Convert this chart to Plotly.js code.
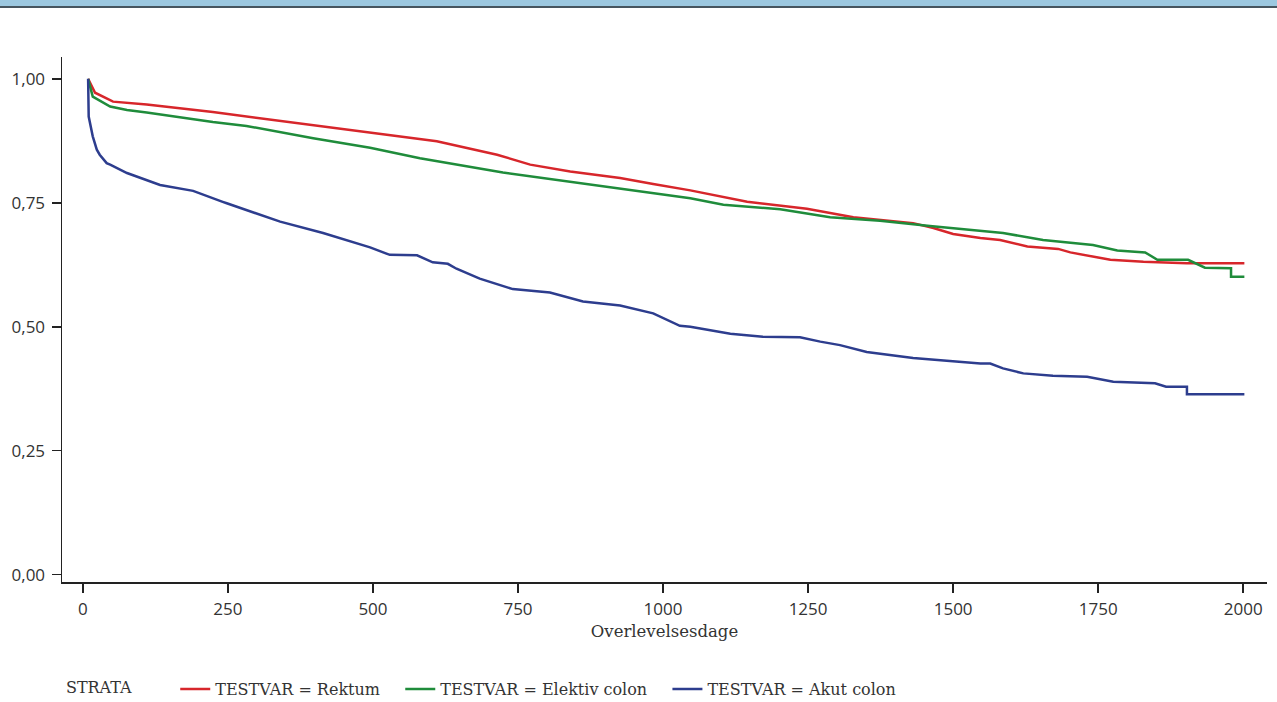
<!DOCTYPE html>
<html>
<head>
<meta charset="utf-8">
<script src="https://cdn.plot.ly/plotly-3.0.1.min.js"></script>
<style>
  html, body { margin: 0; padding: 0; background: #fff; }
  #topband { position: absolute; left: 0; top: 0; width: 1277px; height: 6px; background: #9cc8e0; border-bottom: 2px solid #46555f; z-index: 5; }
  #chart { position: absolute; left: 0; top: 0; width: 1277px; height: 702px; }
</style>
</head>
<body>
<div id="topband"></div>
<div id="chart"></div>
<script>
// Kaplan-Meier survival, days
const rektumDays = [9, 21, 52, 110, 224, 340, 495, 512, 610, 714, 771, 840, 926, 983, 1047, 1145, 1248, 1328, 1431, 1466, 1500, 1547, 1581, 1628, 1681, 1702, 1771, 1828, 1903, 2002];
const rektumSurv = [1.000, 0.972, 0.954, 0.948, 0.933, 0.915, 0.892, 0.889, 0.874, 0.847, 0.827, 0.813, 0.800, 0.788, 0.775, 0.752, 0.738, 0.721, 0.709, 0.699, 0.687, 0.679, 0.675, 0.662, 0.657, 0.650, 0.635, 0.631, 0.628, 0.628];

const elektivDays = [9, 17, 47, 76, 110, 224, 282, 397, 495, 581, 724, 840, 926, 1047, 1104, 1202, 1288, 1374, 1460, 1547, 1586, 1655, 1741, 1783, 1831, 1852, 1905, 1934, 1979, 1979, 2002];
const elektivSurv = [1.000, 0.964, 0.944, 0.937, 0.932, 0.913, 0.905, 0.880, 0.861, 0.840, 0.811, 0.792, 0.778, 0.759, 0.746, 0.737, 0.721, 0.714, 0.703, 0.694, 0.689, 0.675, 0.665, 0.654, 0.650, 0.635, 0.635, 0.619, 0.618, 0.601, 0.601];

const akutDays = [9, 10, 17, 24, 29, 41, 47, 76, 133, 190, 241, 248, 340, 414, 495, 529, 576, 603, 629, 644, 684, 741, 805, 862, 926, 983, 1029, 1047, 1116, 1172, 1236, 1271, 1305, 1351, 1431, 1489, 1547, 1564, 1586, 1621, 1672, 1731, 1776, 1848, 1867, 1903, 1903, 2002];
const akutSurv = [1.000, 0.924, 0.884, 0.857, 0.847, 0.830, 0.827, 0.810, 0.786, 0.774, 0.752, 0.749, 0.712, 0.689, 0.660, 0.645, 0.644, 0.630, 0.627, 0.617, 0.597, 0.576, 0.569, 0.551, 0.543, 0.527, 0.502, 0.500, 0.486, 0.480, 0.479, 0.470, 0.463, 0.449, 0.437, 0.431, 0.426, 0.426, 0.416, 0.406, 0.401, 0.399, 0.389, 0.386, 0.379, 0.379, 0.364, 0.364];

const seriesNames = ["TESTVAR = Rektum", "TESTVAR = Elektiv colon", "TESTVAR = Akut colon"];
const seriesColors = ["#d7262b", "#1f8c3b", "#2d3d8e"];

const xTicks = [0, 250, 500, 750, 1000, 1250, 1500, 1750, 2000];
const yTicks = [0, 0.25, 0.5, 0.75, 1.0];

const serifFont = "'DejaVu Serif', 'Liberation Serif', serif";
const sansFont = "'Open Sans', 'Noto Sans', sans-serif";
const NB = '\u00A0';

const xs = [rektumDays, elektivDays, akutDays];
const ys = [rektumSurv, elektivSurv, akutSurv];
const traces = xs.map((x, i) => ({
  x: x, y: ys[i], type: 'scatter', mode: 'lines',
  name: seriesNames[i] + (i < 2 ? NB.repeat(3) : ''),
  line: {color: seriesColors[i], width: 2.5, shape: 'linear'}
}));

const layout = {
  width: 1277, height: 702,
  margin: {l: 62, r: 10, t: 57, b: 120, autoexpand: false},
  paper_bgcolor: '#ffffff', plot_bgcolor: '#ffffff',
  separators: ', ',
  showlegend: true,
  legend: {
    orientation: 'h', x: 0.0016, xanchor: 'left', y: -0.204, yanchor: 'middle',
    title: {text: 'STRATA' + NB.repeat(7), side: 'left', font: {family: serifFont, size: 16, color: '#333'}},
    font: {family: serifFont, size: 16, color: '#333'},
    itemwidth: 30, tracegroupgap: 0, bgcolor: 'rgba(0,0,0,0)'
  },
  xaxis: {
    range: [-36, 2041], tickvals: xTicks, tickformat: 'd',
    showgrid: false, zeroline: false, showline: true, linecolor: '#222', linewidth: 1.5,
    ticks: 'outside', ticklen: 9, tickcolor: '#222', tickwidth: 1.5,
    ticklabelstandoff: 2,
    tickfont: {family: sansFont, size: 17, color: '#333'},
    title: {text: 'Overlevelsesdage', font: {family: serifFont, size: 16.5, color: '#333'}, standoff: 6}
  },
  yaxis: {
    range: [-0.0147, 1.044], tickvals: yTicks, tickformat: '.2f',
    showgrid: false, zeroline: false, showline: true, linecolor: '#222', linewidth: 1.5,
    ticks: 'outside', ticklen: 9, tickcolor: '#222', tickwidth: 1.5,
    ticklabelstandoff: 3,
    tickfont: {family: sansFont, size: 17, color: '#333'}
  }
};

Plotly.newPlot('chart', traces, layout, {displayModeBar: false, staticPlot: true});
</script>
</body>
</html>
